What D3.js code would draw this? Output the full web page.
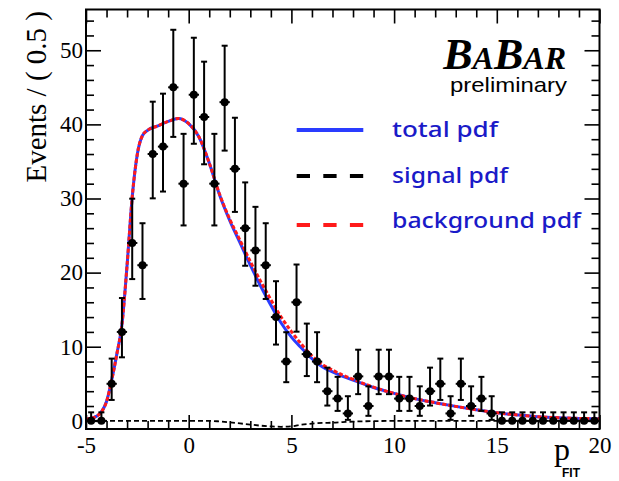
<!DOCTYPE html>
<html lang="en">
<head>
<meta charset="utf-8">
<script src="https://d3js.org/d3.v7.min.js"></script>
<style>
  body { margin: 0; background: #fff; }
</style>
</head>
<body>
<script>

// binned data, p_FIT bins of 0.5 from -5 to 20
const binLow = -5, binWidth = 0.5
const counts = [0, 0, 5, 12, 24, 21, 36, 37, 45, 32,
                44, 41, 32, 43, 34, 26, 23, 21, 14, 8,
                16, 9, 8, 4, 3, 1, 6, 2, 6, 6,
                3, 3, 2, 4, 5, 1, 5, 2, 3, 1,
                0, 0, 0, 0, 0, 0, 0, 0, 0, 0]

// fitted curves
const curveX   = [-5, -4.75, -4.5, -4.25, -4, -3.75, -3.5, -3.25, -3, -2.75, -2.5, -2.25, -2, -1.5, -1, -0.5, 0, 0.5, 1, 1.5, 2, 2.5, 3, 3.5, 4, 4.5, 5, 5.5, 6, 6.5, 7, 7.5, 8, 9, 10, 11, 12, 13, 14, 15, 16, 17, 18, 19, 20]
const totalPdf = [0.2, 0.35, 0.6, 1.2, 2.6, 5.5, 9.0, 13.0, 21.0, 30.2, 36.0, 38.5, 39.2, 39.8, 40.4, 40.8, 40.1, 38.3, 34.8, 30.5, 27.0, 24.0, 21.0, 18.2, 15.6, 13.2, 11.3, 9.8, 8.4, 7.3, 6.6, 6.0, 5.5, 4.5, 3.7, 3.0, 2.45, 1.95, 1.5, 1.1, 0.8, 0.55, 0.42, 0.33, 0.28]
const bkgPdf   = [0.2, 0.35, 0.6, 1.2, 2.6, 5.5, 9.0, 13.0, 21.0, 30.2, 36.0, 38.5, 39.2, 39.8, 40.4, 40.8, 40.1, 38.3, 34.8, 30.6, 27.2, 24.35, 21.5, 18.85, 16.35, 14.0, 12.05, 10.3, 8.78, 7.6, 6.85, 6.17, 5.6, 4.54, 3.7, 3.0, 2.45, 1.95, 1.5, 1.1, 0.8, 0.55, 0.42, 0.33, 0.28]
const sigPdf   = [0, 0, 0, 0, 0, 0, 0, 0, 0, 0, 0, 0, 0, 0, 0, 0, 0, 0, 0, -0.08, -0.2, -0.35, -0.5, -0.65, -0.75, -0.8, -0.75, -0.5, -0.38, -0.28, -0.25, -0.17, -0.1, -0.04, 0, 0, 0, 0, 0, 0, 0, 0, 0, 0, 0]

const legendLabels = ['total pdf', 'signal pdf', 'background pdf']
const xMajor = [-5, 0, 5, 10, 15, 20]
const yMajor = [0, 10, 20, 30, 40, 50]

const width = 619, height = 481

const x = d3.scaleLinear().domain([-5, 20]).range([86, 599.5])
const y = d3.scaleLinear().domain([-1.1, 55.5]).range([429, 9.5])

const svg = d3.select('body')
  .append('svg')
  .attr('width', width)
  .attr('height', height)
  .style('background', '#fff')

// poisson errors (Gehrels approx, RooFit style 1.148 for zero)
function poisErr(n) {
  if (n == 0) return [0, 1.148]
  return [Math.sqrt(n - 0.25), Math.sqrt(n + 0.75) + 1]
}

// ---- curves ----
const line = d3.line().curve(d3.curveMonotoneX)
const pts = function(arr) { return curveX.map(function(v, i) { return [x(v), y(arr[i])] }) }

svg.append('path')
  .attr('d', line(pts(totalPdf)))
  .attr('fill', 'none')
  .attr('stroke', '#2a3cff')
  .attr('stroke-width', 3)

svg.append('path')
  .attr('d', line(pts(bkgPdf)))
  .attr('fill', 'none')
  .attr('stroke', '#ff1a1a')
  .attr('stroke-width', 3)
  .attr('stroke-dasharray', '4,2')

svg.append('path')
  .attr('d', line(pts(sigPdf)))
  .attr('fill', 'none')
  .attr('stroke', '#000')
  .attr('stroke-width', 1.8)
  .attr('stroke-dasharray', '5,3')

// ---- data points ----
const data = counts.map(function(n, i) {
  return {x: binLow + binWidth * (i + 0.5), n: n, err: poisErr(n)}
})

const pt = svg.append('g').selectAll('g')
  .data(data)
  .enter()
  .append('g')

pt.append('line')
  .attr('x1', d => x(d.x)).attr('x2', d => x(d.x))
  .attr('y1', d => y(d.n - d.err[0])).attr('y2', d => y(d.n + d.err[1]))
  .attr('stroke', '#000').attr('stroke-width', 2)
pt.append('line')
  .attr('x1', d => x(d.x) - 3).attr('x2', d => x(d.x) + 3)
  .attr('y1', d => y(d.n + d.err[1])).attr('y2', d => y(d.n + d.err[1]))
  .attr('stroke', '#000').attr('stroke-width', 2)
pt.filter(d => d.n > 0).append('line')
  .attr('x1', d => x(d.x) - 3).attr('x2', d => x(d.x) + 3)
  .attr('y1', d => y(d.n - d.err[0])).attr('y2', d => y(d.n - d.err[0]))
  .attr('stroke', '#000').attr('stroke-width', 2)
pt.append('line')
  .attr('x1', d => x(d.x - binWidth / 2)).attr('x2', d => x(d.x + binWidth / 2))
  .attr('y1', d => y(d.n)).attr('y2', d => y(d.n))
  .attr('stroke', '#000').attr('stroke-width', 2)
pt.append('circle')
  .attr('cx', d => x(d.x))
  .attr('cy', d => y(d.n))
  .attr('r', 4)
  .attr('fill', '#000')

// ---- axes ----
function styleAxis(g) {
  g.select('.domain').remove()
  g.selectAll('.tick line').attr('stroke', '#000').attr('stroke-width', 1.6)
  g.selectAll('text')
    .attr('fill', '#000')
    .style('font-family', '"Liberation Serif", "Times New Roman", serif')
    .style('font-size', '23px')
}

const xMinor = d3.range(-5, 20.5, 1).filter(v => xMajor.indexOf(v) < 0)
const yMinor = d3.range(0, 56, 2).filter(v => yMajor.indexOf(v) < 0)
const plain = d => String(d)

svg.append('g').attr('transform', 'translate(0,429)')
  .call(d3.axisBottom(x).tickValues(xMajor).tickSize(-14).tickPadding(8).tickFormat(plain))
  .call(styleAxis)
svg.append('g').attr('transform', 'translate(0,429)')
  .call(d3.axisBottom(x).tickValues(xMinor).tickSize(-8).tickFormat(''))
  .call(styleAxis)
svg.append('g').attr('transform', 'translate(0,9.5)')
  .call(d3.axisTop(x).tickValues(xMajor).tickSize(-14).tickFormat(''))
  .call(styleAxis)
svg.append('g').attr('transform', 'translate(0,9.5)')
  .call(d3.axisTop(x).tickValues(xMinor).tickSize(-8).tickFormat(''))
  .call(styleAxis)

svg.append('g').attr('transform', 'translate(86,0)')
  .call(d3.axisLeft(y).tickValues(yMajor).tickSize(-15).tickPadding(3).tickFormat(plain))
  .call(styleAxis)
svg.append('g').attr('transform', 'translate(86,0)')
  .call(d3.axisLeft(y).tickValues(yMinor).tickSize(-8).tickFormat(''))
  .call(styleAxis)
svg.append('g').attr('transform', 'translate(599.5,0)')
  .call(d3.axisRight(y).tickValues(yMajor).tickSize(-15).tickFormat(''))
  .call(styleAxis)
svg.append('g').attr('transform', 'translate(599.5,0)')
  .call(d3.axisRight(y).tickValues(yMinor).tickSize(-8).tickFormat(''))
  .call(styleAxis)

// frame
svg.append('rect')
  .attr('x', 86).attr('y', 9.5)
  .attr('width', 513.5).attr('height', 419.5)
  .attr('fill', 'none')
  .attr('stroke', '#000')
  .attr('stroke-width', 2)

// axis titles
svg.append('text')
  .attr('transform', 'translate(46,11) rotate(-90)')
  .attr('text-anchor', 'end')
  .style('font-family', '"Liberation Serif", "Times New Roman", serif')
  .style('font-size', '29px')
  .text('Events / ( 0.5 )')

svg.append('text')
  .attr('x', 554).attr('y', 460)
  .style('font-family', '"Liberation Serif", "Times New Roman", serif')
  .style('font-size', '32px')
  .text('p')
svg.append('text')
  .attr('x', 562).attr('y', 477)
  .style('font-family', '"Liberation Sans", Arial, sans-serif')
  .style('font-weight', 'bold')
  .style('font-size', '12px')
  .text('FIT')

// BaBar logo
const logo = svg.append('text')
  .attr('x', 566).attr('y', 69)
  .attr('text-anchor', 'end')
  .style('font-family', '"Liberation Serif", "Times New Roman", serif')
  .style('font-weight', 'bold')
  .style('font-style', 'italic')
logo.append('tspan').style('font-size', '44px').text('B')
logo.append('tspan').style('font-size', '32px').text('A')
logo.append('tspan').style('font-size', '44px').text('B')
logo.append('tspan').style('font-size', '32px').text('AR')

svg.append('text')
  .attr('x', 567).attr('y', 92)
  .attr('text-anchor', 'end')
  .attr('textLength', 117)
  .attr('lengthAdjust', 'spacingAndGlyphs')
  .style('font-family', '"Liberation Sans", Arial, sans-serif')
  .style('font-size', '21px')
  .text('preliminary')

// legend
const legY = [130, 176, 225]
const legText = [137, 183, 228]
const legLen = [106, 116, 189]
const legStroke = ['#2a3cff', '#000', '#ff1a1a']
const legDash = [null, '13.3,13.3', '13.3,13.3']

const leg = svg.append('g').selectAll('g')
  .data(legendLabels)
  .enter()
  .append('g')

leg.append('line')
  .attr('x1', 296.7).attr('x2', 363.3)
  .attr('y1', (d, i) => legY[i]).attr('y2', (d, i) => legY[i])
  .attr('stroke', (d, i) => legStroke[i])
  .attr('stroke-width', 4)
  .attr('stroke-dasharray', (d, i) => legDash[i])

leg.append('text')
  .attr('x', 392)
  .attr('y', (d, i) => legText[i])
  .attr('textLength', (d, i) => legLen[i])
  .attr('lengthAdjust', 'spacingAndGlyphs')
  .attr('fill', '#1a1ac8')
  .style('font-family', '"Comic Sans MS", "Noto Sans", sans-serif')
  .style('font-weight', 500)
  .style('font-size', '22px')
  .text(d => d)

</script>
</body>
</html>
